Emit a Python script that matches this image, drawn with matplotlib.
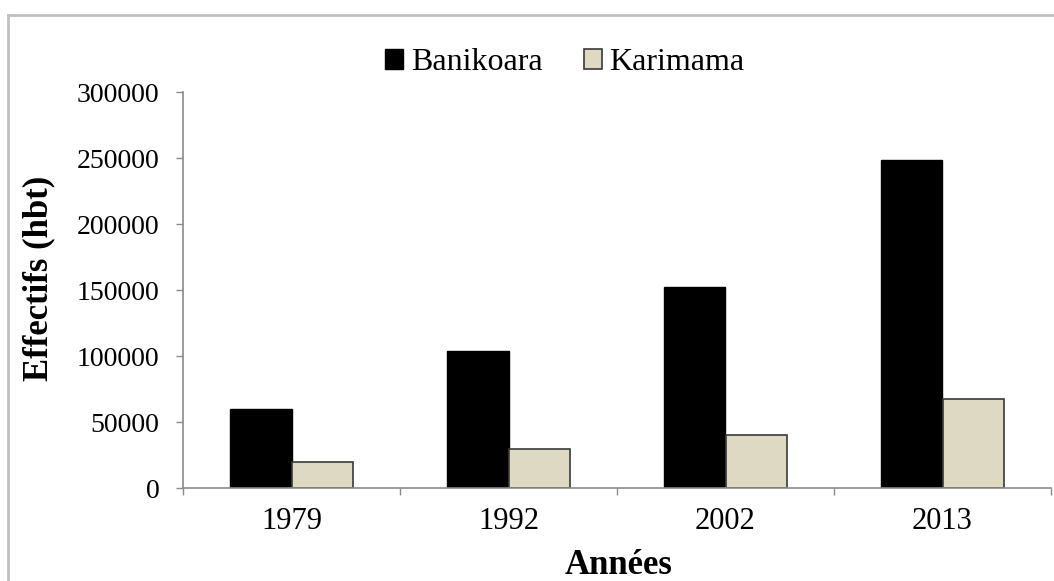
import numpy as np
import matplotlib
matplotlib.use('Agg')
import matplotlib.pyplot as plt
from matplotlib.lines import Line2D

# population by year
annees = ['1979', '1992', '2002', '2013']
banikoara = [59600, 104000, 152500, 248500]
karimama = [20000, 29300, 39900, 67200]
yticks = [0, 50000, 100000, 150000, 200000, 250000, 300000]

plt.rcParams['font.family'] = ['Liberation Serif', 'DejaVu Serif']

fig = plt.figure(figsize=(10.54, 5.81), dpi=100)
ax = fig.add_axes([183/1054, 1 - 488/581, 868/1054, 396/581])

x = np.arange(len(annees))
w = 0.283
ax.bar(x - w/2, banikoara, w, color='black', edgecolor='black', linewidth=1, label='Banikoara')
ax.bar(x + w/2, karimama, w, color='#ddd9c3', edgecolor='#3a3a3a', linewidth=1.2, label='Karimama')

ax.set_xlim(-0.5, len(annees) - 0.5)
ax.set_ylim(0, 300000)
ax.set_yticks(yticks)
ax.set_yticklabels([str(v) for v in yticks])
ax.set_xticks(x)
ax.set_xticklabels(annees)
ax.set_xticks(np.arange(-0.5, len(annees)), minor=True)

for s in ['top', 'right']:
    ax.spines[s].set_visible(False)
for s in ['left', 'bottom']:
    ax.spines[s].set_color('#8a8a8a')
    ax.spines[s].set_linewidth(1.2)

ax.tick_params(axis='y', length=5, width=1, color='#8a8a8a', labelsize=20, pad=12)
ax.tick_params(axis='x', which='major', length=0, labelsize=22, pad=14)
ax.tick_params(axis='x', which='minor', length=5, width=1, color='#8a8a8a')

ax.set_ylabel('Effectifs (hbt)', fontsize=25, fontweight='bold')
ax.yaxis.set_label_coords(-0.147, 0.53)
ax.set_xlabel('Années', fontsize=25, fontweight='bold')
ax.xaxis.set_label_coords(0.502, -0.155)

fig.legend(loc='center', bbox_to_anchor=(0.536, 0.892), ncol=2, frameon=False,
           fontsize=23, handlelength=0.55, handleheight=0.55, handletextpad=0.25,
           columnspacing=1.3)

# outer chart border
fig.add_artist(Line2D([8/1054, 8/1054], [0, 1 - 15/581], transform=fig.transFigure,
                      color='#c0c0c0', linewidth=2))
fig.add_artist(Line2D([8/1054, 1], [1 - 15/581, 1 - 15/581], transform=fig.transFigure,
                      color='#c0c0c0', linewidth=2))

fig.savefig('out.png', dpi=100)
